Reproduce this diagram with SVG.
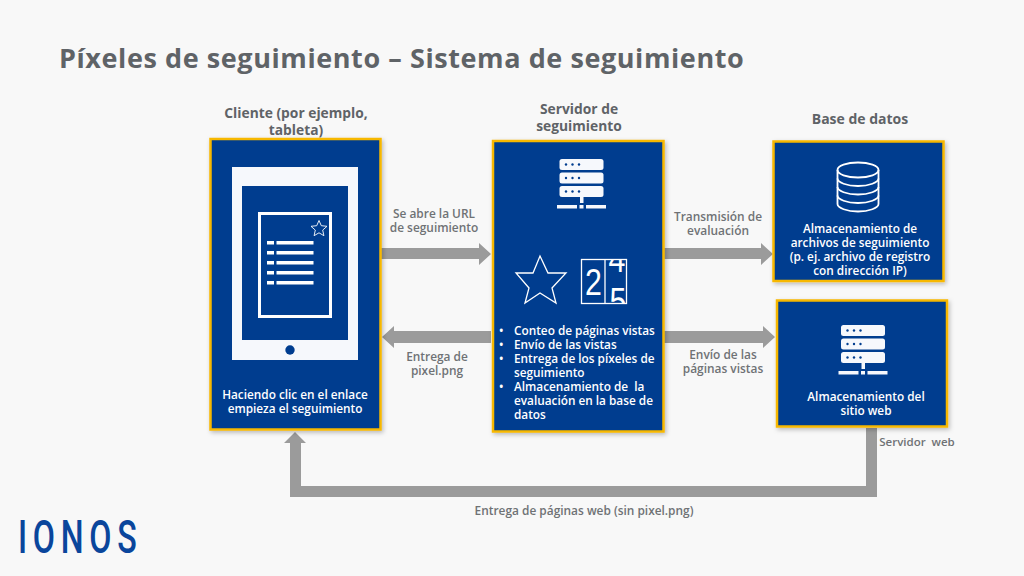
<svg xmlns="http://www.w3.org/2000/svg" width="1024" height="576" viewBox="0 0 1024 576">
<style>
text{font-family:"Open Sans","Noto Sans",sans-serif}
.h{font-size:13.8px;font-weight:700;fill:#5f6367;text-anchor:middle}
.l{font-size:11.9px;font-weight:600;fill:#6f7275;text-anchor:middle}
.w{font-size:11.8px;font-weight:600;fill:#fff;text-anchor:middle}
.b{font-size:11.8px;font-weight:600;fill:#fff}
.d{font-family:"Liberation Sans",sans-serif;font-size:37px;fill:#fff}
.box{fill:#003d8f;stroke:#f7b800;stroke-width:2.5;filter:url(#sh)}
.ln{fill:none;stroke:#fff}
.sv{fill:#f6f8fc}
.ar{fill:#9b9b9b}
</style>
<defs>
<filter id="sh" x="-10%" y="-10%" width="120%" height="120%"><feDropShadow dx="1.500" dy="2" stdDeviation="2" flood-color="#000" flood-opacity="0.25"/></filter>
<clipPath id="cnt"><rect x="606" y="260" width="20" height="43"/></clipPath>
<g id="srv">
<rect x="0" y="0" width="44" height="11" rx="2.500" class="sv"/>
<rect x="0" y="13.500" width="44" height="11" rx="2.500" class="sv"/>
<rect x="0" y="27" width="44" height="11" rx="2.500" class="sv"/>
<g fill="#003d8f"><circle cx="6.500" cy="5.500" r="1.200"/><circle cx="13" cy="5.500" r="1.200"/><circle cx="19.500" cy="5.500" r="1.200"/><circle cx="6.500" cy="19" r="1.200"/><circle cx="13" cy="19" r="1.200"/><circle cx="19.500" cy="19" r="1.200"/><circle cx="6.500" cy="32.500" r="1.200"/><circle cx="13" cy="32.500" r="1.200"/><circle cx="19.500" cy="32.500" r="1.200"/></g>
<rect x="20.500" y="38" width="3.500" height="6" class="sv"/>
<rect x="-2.500" y="46" width="20" height="3.500" class="sv"/><rect x="20" y="46" width="4" height="3.500" class="sv"/><rect x="26.500" y="46" width="20" height="3.500" class="sv"/>
</g>
</defs>
<rect width="1024" height="576" fill="#f8f8f8"/>
<text x="59" y="68" fill="#5f6367" letter-spacing="0.58" style="font-size:27px;font-weight:700">Píxeles de seguimiento – Sistema de seguimiento</text>

<g id="connectors">
<path class="ar" d="M381 248H479V243L491 254 479 265V259H381Z"/>
<path class="ar" d="M491 331H394V326L382 337 394 348V343H491Z"/>
<path class="ar" d="M664 248H761V243L773 254 761 265V259H664Z"/>
<path class="ar" d="M664 331H763V326L775 337 763 348V343H664Z"/>
<path class="ar" d="M866 428H877V497H290V443H284L295 432 306 443H301V486H866Z"/>
</g>

<g id="label-url"><text class="l"><tspan x="434" y="218">Se abre la URL</tspan><tspan x="434" y="232">de seguimiento</tspan></text></g>
<g id="label-pixel"><text class="l"><tspan x="437" y="361">Entrega de</tspan><tspan x="437" y="375">pixel.png</tspan></text></g>
<g id="label-eval"><text class="l"><tspan x="718" y="221">Transmisión de</tspan><tspan x="718" y="235">evaluación</tspan></text></g>
<g id="label-envio"><text class="l"><tspan x="723" y="359">Envío de las</tspan><tspan x="723" y="373">páginas vistas</tspan></text></g>
<g id="label-web"><text class="l" x="917" y="446" xml:space="preserve" style="font-size:11.5px">Servidor  web</text></g>
<g id="label-entrega"><text class="l" x="584" y="515">Entrega de páginas web (sin pixel.png)</text></g>

<g id="client">
<text class="h"><tspan x="296" y="118">Cliente (por ejemplo,</tspan><tspan x="296" y="135">tableta)</tspan></text>
<rect class="box" x="210.500" y="139" width="170" height="290.500"/>
<rect x="232" y="167" width="126" height="193" fill="#f6f8fc"/>
<rect x="242" y="186" width="106" height="154" fill="#003d8f"/>
<rect x="259.500" y="213.500" width="71" height="103" class="ln" stroke-width="3"/>
<path class="ln" d="M319 220.500l2.300 5.200 5.700.6-4.300 3.800 1.200 5.600-4.900-2.900-4.900 2.900 1.200-5.600-4.300-3.800 5.700-.6z" stroke-width="0.900"/>
<g fill="#fff"><rect x="267" y="241" width="7" height="3.500"/><rect x="276.500" y="241" width="37" height="3.500"/><rect x="267" y="251" width="7" height="3.500"/><rect x="276.500" y="251" width="37" height="3.500"/><rect x="267" y="261" width="7" height="3.500"/><rect x="276.500" y="261" width="37" height="3.500"/><rect x="267" y="271" width="7" height="3.500"/><rect x="276.500" y="271" width="37" height="3.500"/><rect x="267" y="281" width="7" height="3.500"/><rect x="276.500" y="281" width="37" height="3.500"/></g>
<circle cx="290" cy="350" r="4.700" fill="#003d8f"/>
<text class="w"><tspan x="295" y="399">Haciendo clic en el enlace</tspan><tspan x="295" y="413">empieza el seguimiento</tspan></text>
</g>

<g id="tracking-server">
<text class="h"><tspan x="579" y="114">Servidor de</tspan><tspan x="579" y="131">seguimiento</tspan></text>
<rect class="box" x="493" y="141" width="170.500" height="290.500"/>
<use href="#srv" x="559.500" y="159"/>
<path class="ln" stroke-width="1.300" d="M540 256L548 273 566 273 552 288 556 303 540 293 525 303 529 288 516 273 533 273Z"/>
<rect class="ln" stroke-width="1.300" x="581.500" y="259.500" width="45" height="44"/>
<path class="ln" stroke-width="1.300" d="M605 259.500V303.500"/>
<text class="d" text-anchor="middle" transform="translate(593.500 295) scale(.82 1)">2</text>
<g clip-path="url(#cnt)"><text class="d" text-anchor="middle" transform="translate(617 272) scale(.82 1)">4</text><text class="d" text-anchor="middle" transform="translate(618 314) scale(.82 1)">5</text></g>
<text class="b" x="499" y="335">•</text><text class="b" x="514" y="335">Conteo de páginas vistas</text>
<text class="b" x="499" y="349">•</text><text class="b" x="514" y="349">Envío de las vistas</text>
<text class="b" x="499" y="363">•</text><text class="b"><tspan x="514" y="363">Entrega de los píxeles de</tspan><tspan x="514" y="377">seguimiento</tspan></text>
<text class="b" x="499" y="391">•</text><text class="b" xml:space="preserve"><tspan x="514" y="391">Almacenamiento de  la</tspan><tspan x="514" y="405">evaluación en la base de</tspan><tspan x="514" y="419">datos</tspan></text>
</g>

<g id="database">
<text class="h" x="860" y="124" style="font-size:14px">Base de datos</text>
<rect class="box" x="773.500" y="141.500" width="170" height="139.500"/>
<g class="ln" stroke-width="1.800" fill="none">
<ellipse cx="858" cy="170" rx="20.500" ry="7.500"/>
<path d="M837.500 170V204C837.500 208 847 211.500 858 211.500S878.500 208 878.500 204V170"/>
<path d="M837.500 178.500C837.500 182.500 847 186 858 186S878.500 182.500 878.500 178.500"/>
<path d="M837.500 187C837.500 191 847 194.500 858 194.500S878.500 191 878.500 187"/>
<path d="M837.500 195.500C837.500 199.500 847 203 858 203S878.500 199.500 878.500 195.500"/>
</g>
<text class="w"><tspan x="860" y="233">Almacenamiento de</tspan><tspan x="860" y="247">archivos de seguimiento</tspan><tspan x="860" y="261">(p. ej. archivo de registro</tspan><tspan x="860" y="275">con dirección IP)</tspan></text>
</g>

<g id="web-storage">
<rect class="box" x="777" y="300.500" width="170" height="126"/>
<use href="#srv" x="841" y="325"/>
<text class="w"><tspan x="866" y="401">Almacenamiento del</tspan><tspan x="866" y="415">sitio web</tspan></text>
</g>

<g id="logo"><text transform="translate(18 553) scale(0.7 1)" fill="#0a469c" letter-spacing="8.200" style="font-family:Roboto,sans-serif;font-size:46px;font-weight:500">IONOS</text></g>
</svg>
